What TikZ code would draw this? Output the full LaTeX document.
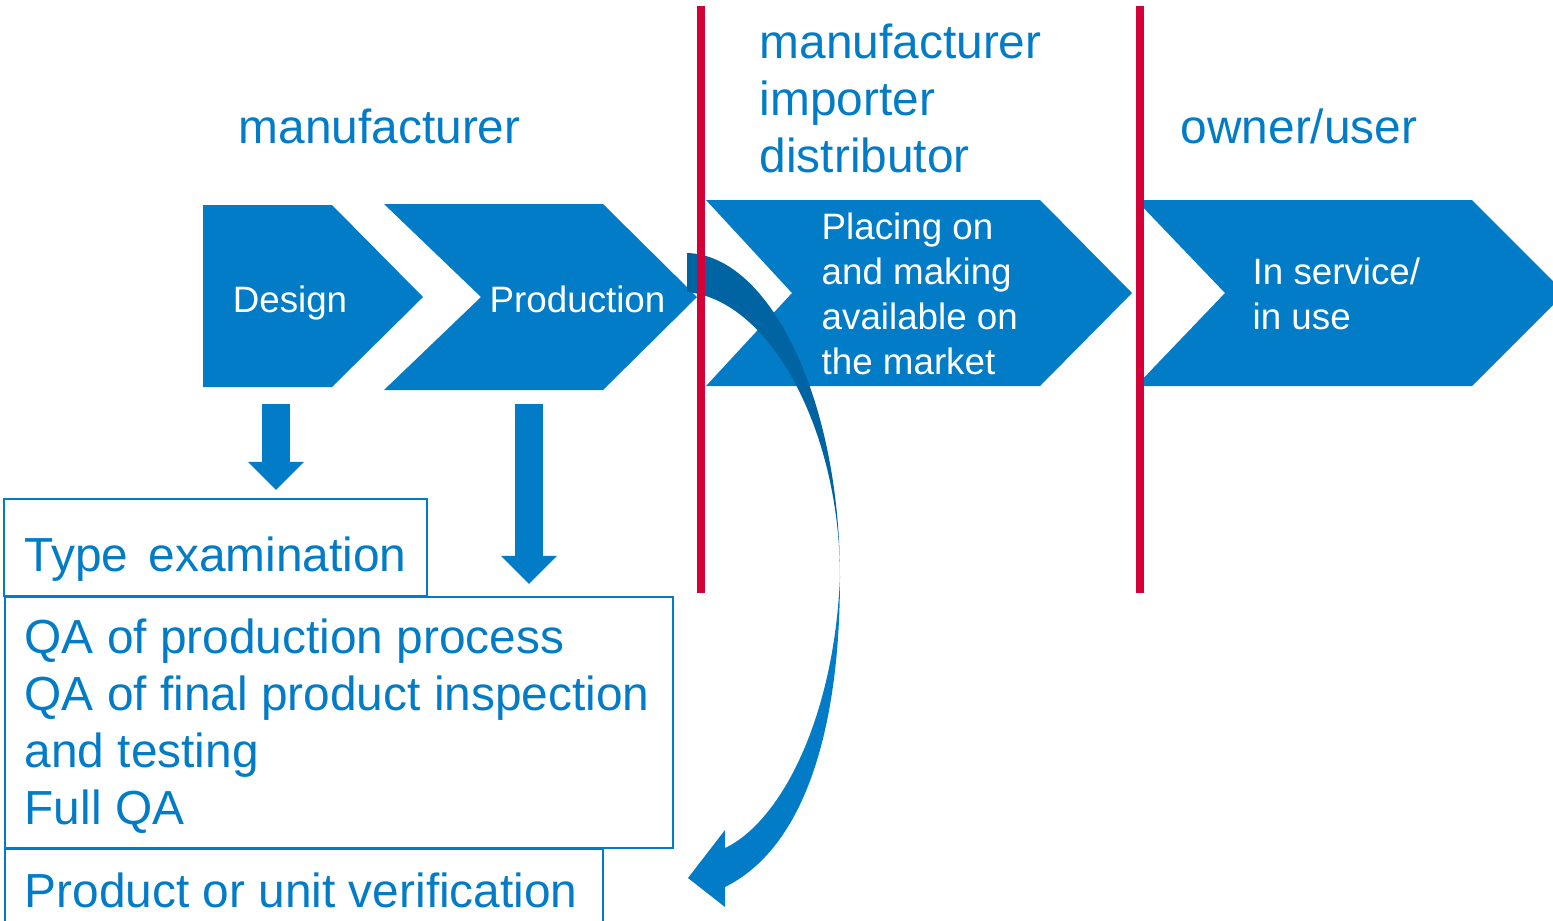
\documentclass[tikz,border=0pt]{standalone}
\usepackage{fontspec}
\setmainfont{Liberation Sans}
\usetikzlibrary{arrows.meta,positioning}
\definecolor{chevblue}{RGB}{3,124,199}
\definecolor{darkblue}{RGB}{0,100,162}
\definecolor{divred}{RGB}{213,0,55}

\begin{document}
\begin{tikzpicture}[x=0.01cm, y=-0.01cm,
    chevron/.style={fill=chevblue},
    steptxt/.style={text=white, inner sep=0pt, align=left, font=\fontsize{10.45pt}{12.8pt}\selectfont},
    roletxt/.style={text=chevblue, inner sep=0pt, align=left, font=\fontsize{13.6pt}{16.2pt}\selectfont},
    boxtxt/.style={text=chevblue, inner sep=0pt, align=left, font=\fontsize{13.6pt}{16.2pt}\selectfont},
    checkbox/.style={draw=chevblue, line width=0.5pt},
    divider/.style={draw=divred, line width=0.08cm},
    downarrow/.style={draw=chevblue, line width=0.27cm, -{Triangle[length=0.28cm, width=0.54cm]}}]
   \useasboundingbox (0,0) rectangle (1553,920);
   % process chevrons
   \fill[chevron] (203,205) -- (332,205) -- (423,297) -- (332,387) -- (203,387) -- cycle;
   \fill[chevron] (384,204) -- (603,204) -- (697,297) -- (603,390) -- (384,390) -- (481,297) -- cycle;
   \fill[chevron] (706,200) -- (1040,200) -- (1132,293) -- (1040,386) -- (706,386) -- (792,293) -- cycle;
   \fill[chevron] (1136,200) -- (1472,200) -- (1565,293) -- (1472,386) -- (1136,386) -- (1225,293) -- cycle;
   % curved arrow back to verification
   \coordinate (pinch) at (840,577);
   \fill[darkblue] (687,253) .. controls (770,255) and (840,400) .. (pinch)
     .. controls (840,430) and (770,300) .. (687,292) -- cycle;
   \fill[chevblue] (pinch) .. controls (840,740) and (800,850) .. (725,887)
     -- (725,907) -- (688,878) -- (725,830) -- (725,848)
     .. controls (780,822) and (834,720) .. (pinch) -- cycle;
   % role dividers
   \draw[divider] (701,6) -- (701,593);
   \draw[divider] (1140,6) -- (1140,593);
   % roles
   \node[roletxt, anchor=west] (mfr) at (238,126) {manufacturer};
   \node[roletxt, anchor=west] (chain) at (759,98) {manufacturer\\importer\\distributor};
   \node[roletxt, anchor=west] (owner) at (1180,126) {owner/user};
   % steps
   \node[steptxt] (design) at (290,303) {Design};
   \node[steptxt, anchor=west] (prod) at (489,299) {Production};
   \node[steptxt, anchor=west] (placing) at (821,294) {Placing on\\and making\\available on\\the market};
   \node[steptxt, anchor=west] (service) at (1252,294) {In service/\\in use};
   % modules
   \draw[checkbox] (4,499) rectangle (427,596);
   \draw[checkbox] (5,597) rectangle (673,848);
   \draw[checkbox] (5,849) rectangle (603,930);
   \node[boxtxt, anchor=west] (typeex) at (24,559) {Type\hspace{0.07cm} examination};
   \node[boxtxt, anchor=west] (qa) at (24,726) {QA of production process\\QA of final product inspection\\and testing\\Full QA};
   \node[boxtxt, anchor=west] (verif) at (24,890) {Product or unit verification};
   \coordinate (designfoot) at (276,404);
   \coordinate (typetop) at (276,490);
   \coordinate (prodfoot) at (529,404);
   \coordinate (qatop) at (529,584);
   \draw[downarrow] (designfoot) -- (typetop);
   \draw[downarrow] (prodfoot) -- (qatop);
\end{tikzpicture}
\end{document}
